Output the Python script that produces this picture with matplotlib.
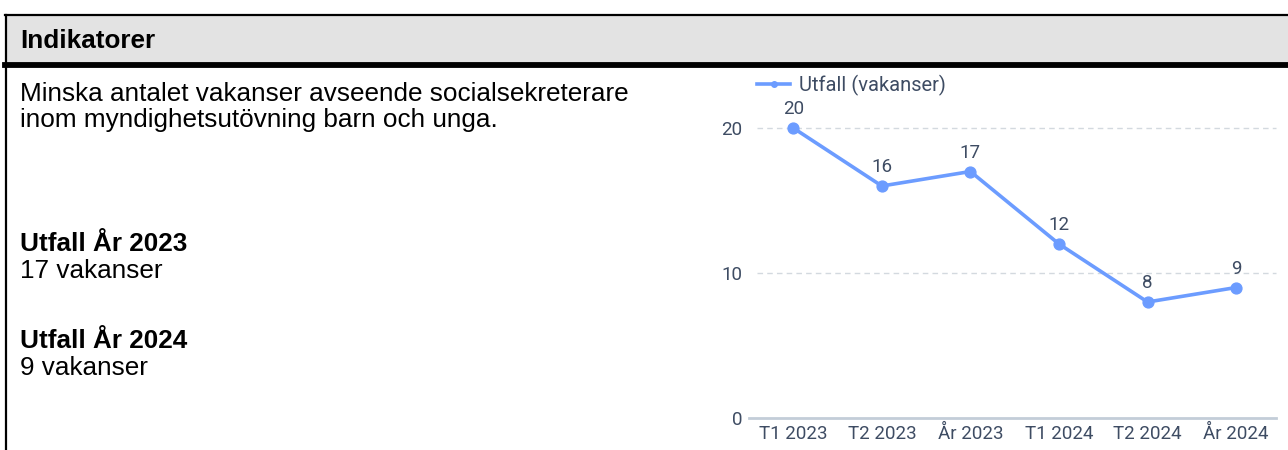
import matplotlib
matplotlib.use("Agg")
import matplotlib.pyplot as plt
from matplotlib.lines import Line2D
from matplotlib.patches import Rectangle

categories = ["T1 2023", "T2 2023", "År 2023", "T1 2024", "T2 2024", "År 2024"]
values = [20, 16, 17, 12, 8, 9]
series_name = "Utfall (vakanser)"
yticks = [0, 10, 20]

header = "Indikatorer"
desc_lines = ["Minska antalet vakanser avseende socialsekreterare",
              "inom myndighetsutövning barn och unga."]
result_blocks = [("Utfall År 2023", "17 vakanser"), ("Utfall År 2024", "9 vakanser")]

W, H = 1288, 450
fig = plt.figure(figsize=(W / 100, H / 100), dpi=100)

def fx(x):
    return x / W

def fy(y):
    return 1 - y / H

# table frame
fig.patches.append(Rectangle((fx(6), fy(63)), fx(W) - fx(6), fy(16) - fy(63),
                             transform=fig.transFigure, facecolor="#e3e3e3", edgecolor="none"))
fig.lines.append(Line2D([fx(5), 1], [fy(15), fy(15)], transform=fig.transFigure, color="black", lw=1.6))
fig.lines.append(Line2D([fx(6), fx(6)], [fy(15), 0], transform=fig.transFigure, color="black", lw=1.6))
fig.lines.append(Line2D([fx(5), 1], [fy(65), fy(65)], transform=fig.transFigure, color="black", lw=4.2))

txt_font = ["Liberation Sans", "DejaVu Sans"]
fs = 18.8
fig.text(fx(20), fy(48), header, fontsize=fs, fontweight="bold", family=txt_font,
         va="baseline", ha="left")
for i, line in enumerate(desc_lines):
    fig.text(fx(20), fy(101 + 26 * i), line, fontsize=fs, family=txt_font, va="baseline", ha="left")
for j, (title, val) in enumerate(result_blocks):
    y0 = 251 + 97 * j
    fig.text(fx(20), fy(y0), title, fontsize=fs, fontweight="bold", family=txt_font,
             va="baseline", ha="left")
    fig.text(fx(20), fy(y0 + 27), val, fontsize=fs, family=txt_font, va="baseline", ha="left")

# chart
ax_left, ax_right, ax_bottom_px, ax_top_px = 749, 1276, 418, 99
ax = fig.add_axes([fx(ax_left), fy(ax_bottom_px), fx(ax_right) - fx(ax_left),
                   fy(ax_top_px) - fy(ax_bottom_px)])
line_color = "#6c9cff"
tick_color = "#3e4c63"
chart_font = ["Roboto", "DejaVu Sans"]
cfs = 13.5

x = list(range(len(categories)))
ax.plot(x, values, color=line_color, lw=2.6, marker="o", markersize=7.8, zorder=3, clip_on=False)
for xi, v in zip(x, values):
    ax.annotate(str(v), (xi, v), xytext=(0, 7), textcoords="offset points", ha="center",
                va="bottom", fontsize=cfs, color=tick_color, family=chart_font)

ax.set_xlim(-0.5, 5.45)
ax.set_ylim(0, 22)
ax.set_xticks(x)
ax.set_xticklabels(categories)
ax.set_yticks(yticks)
for spine in ["top", "right", "left"]:
    ax.spines[spine].set_visible(False)
ax.spines["bottom"].set_color("#c3cdd8")
ax.spines["bottom"].set_linewidth(2)
ax.tick_params(axis="both", length=0, colors=tick_color, labelsize=cfs)
ax.tick_params(axis="x", pad=5)
ax.tick_params(axis="y", pad=5)
for lab in ax.get_xticklabels() + ax.get_yticklabels():
    lab.set_family(chart_font)
for yv in yticks[1:]:
    ax.plot([-0.41, 5.45], [yv, yv], color="#d3d9df", lw=1, ls=(0, (4, 3)), zorder=1, clip_on=False)

handle = Line2D([], [], color=line_color, lw=2.6, marker="o", markersize=4)
leg = fig.legend([handle], [series_name], loc="center left",
                 bbox_to_anchor=(fx(757), fy(85)), frameon=False, handlelength=1.65,
                 handletextpad=0.45, borderaxespad=0, borderpad=0,
                 prop={"family": chart_font, "size": 14.5})
for t in leg.get_texts():
    t.set_color(tick_color)

fig.savefig("out.png", dpi=100)
